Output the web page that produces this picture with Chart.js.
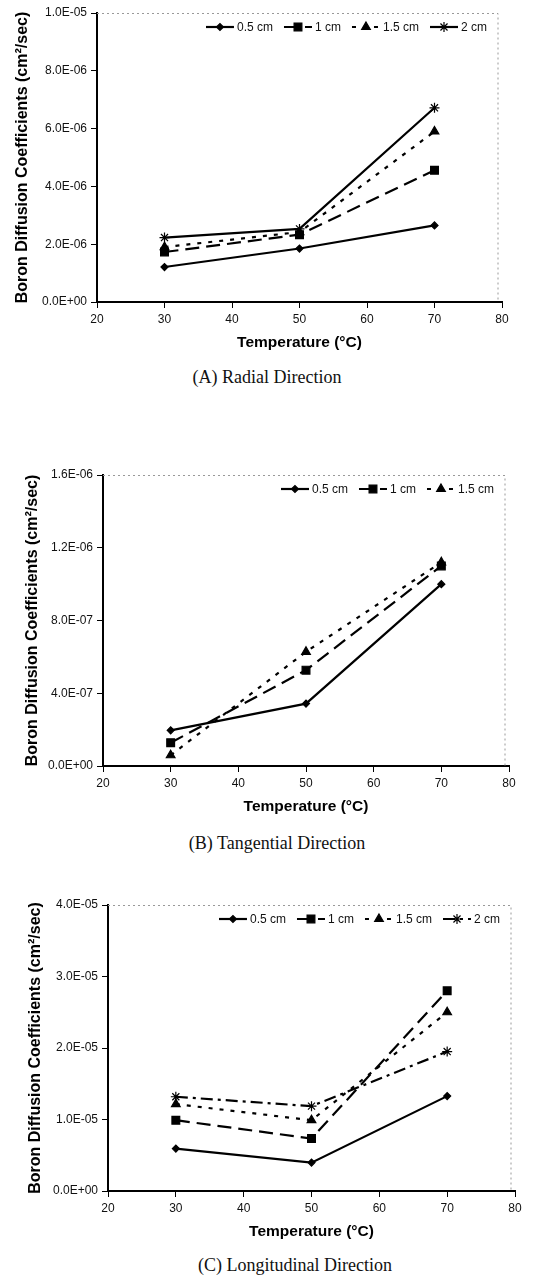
<!DOCTYPE html>
<html>
<head>
<meta charset="utf-8">
<script src="https://cdn.jsdelivr.net/npm/chart.js@4.4.1/dist/chart.umd.min.js"></script>
<style>
  body { margin: 0; background: #fff; width: 550px; height: 1278px; position: relative; overflow: hidden; }
  canvas { position: absolute; left: 0; }
  .cap { position: absolute; font-family: "Liberation Serif", "Times New Roman", serif; font-size: 18px; color: #111; white-space: nowrap; transform: translate(-50%, -50%); }
</style>
</head>
<body>
<canvas id="chartA" width="550" height="360" style="top:0px"></canvas>
<div class="cap" style="left:267px; top:377px">(A) Radial Direction</div>
<canvas id="chartB" width="550" height="362" style="top:462px"></canvas>
<div class="cap" style="left:277px; top:843px">(B) Tangential Direction</div>
<canvas id="chartC" width="550" height="357" style="top:892px"></canvas>
<div class="cap" style="left:295px; top:1265px">(C) Longitudinal Direction</div>

<script>
/* Datos */
const temps = [30, 50, 70]
const xTicks = [20, 30, 40, 50, 60, 70, 80]

const radial05 = [1.21e-6, 1.85e-6, 2.65e-6]
const radial1 = [1.73e-6, 2.33e-6, 4.56e-6]
const radial15 = [1.90e-6, 2.42e-6, 5.90e-6]
const radial2 = [2.23e-6, 2.53e-6, 6.72e-6]
const yTicksA = [0, 2e-6, 4e-6, 6e-6, 8e-6, 1e-5]

const tang05 = [1.96e-7, 3.43e-7, 1.00e-6]
const tang1 = [1.28e-7, 5.27e-7, 1.10e-6]
const tang15 = [0.59e-7, 6.28e-7, 1.12e-6]
const yTicksB = [0, 4e-7, 8e-7, 1.2e-6, 1.6e-6]

const long05 = [0.593e-5, 0.397e-5, 1.327e-5]
const long1 = [0.99e-5, 0.734e-5, 2.80e-5]
const long15 = [1.215e-5, 0.99e-5, 2.50e-5]
const long2 = [1.318e-5, 1.187e-5, 1.95e-5]
const yTicksC = [0, 1e-5, 2e-5, 3e-5, 4e-5]

const FONT = '"Liberation Sans", Arial, sans-serif'

function sci (v) {
  if (v === 0) return '0.0E+00'
  const e = Math.floor(Math.log10(Math.abs(v)) + 1e-9)
  const m = v / Math.pow(10, e)
  return m.toFixed(1) + 'E' + (e < 0 ? '-' : '+') + String(Math.abs(e)).padStart(2, '0')
}

// estilos de cada serie
const estilos = {
  s05: { borderDash: [], pointStyle: 'rectRot', pointRadius: 3.5 },
  s1: { borderDash: [14, 7], pointStyle: 'rect', pointRadius: 5.5 },
  s15: { borderDash: [4, 7], pointStyle: 'triangle', pointRadius: 5 },
  s2sol: { borderDash: [], pointStyle: 'star', pointRadius: 5 },
  s2dd: { borderDash: [12, 5, 3, 5], pointStyle: 'star', pointRadius: 5 }
}

function serie (label, valores, est) {
  return {
    label: label,
    data: temps.map((t, i) => ({ x: t, y: valores[i] })),
    borderColor: '#000',
    backgroundColor: '#000',
    borderWidth: 2.2,
    borderDash: est.borderDash,
    pointStyle: est.pointStyle,
    pointRadius: est.pointRadius,
    pointBorderWidth: 1.2,
    pointBackgroundColor: '#000',
    pointBorderColor: '#000',
    tension: 0
  }
}

// marco punteado arriba y a la derecha
const marco = {
  id: 'marco',
  beforeDatasetsDraw (chart) {
    const { ctx, chartArea: a } = chart
    ctx.save()
    ctx.strokeStyle = '#999'
    ctx.lineWidth = 1
    ctx.setLineDash([2, 3])
    ctx.beginPath()
    ctx.moveTo(a.left, a.top + 0.5)
    ctx.lineTo(a.right - 4, a.top + 0.5)
    ctx.lineTo(a.right - 4, a.bottom)
    ctx.stroke()
    ctx.restore()
  }
}

// leyenda con muestra de linea + marcador
const leyenda = {
  id: 'leyenda',
  afterDatasetsDraw (chart) {
    const { ctx, chartArea: a } = chart
    const sets = chart.data.datasets
    const sampleW = 28
    const gapTxt = 3
    const gapItem = 11
    ctx.save()
    ctx.font = '12px ' + FONT
    ctx.textBaseline = 'middle'
    let total = 0
    sets.forEach((d, i) => {
      total += sampleW + gapTxt + ctx.measureText(d.label).width
      if (i < sets.length - 1) total += gapItem
    })
    let x = a.right - 15 - total
    const y = a.top + 14
    sets.forEach(d => {
      ctx.strokeStyle = '#000'
      ctx.fillStyle = '#000'
      ctx.lineWidth = 2.2
      ctx.setLineDash(d.borderDash)
      ctx.beginPath()
      ctx.moveTo(x, y)
      ctx.lineTo(x + sampleW, y)
      ctx.stroke()
      ctx.setLineDash([])
      ctx.lineWidth = 1.2
      Chart.helpers.drawPoint(ctx, {
        pointStyle: d.pointStyle,
        radius: d.pointRadius,
        rotation: 0,
        borderWidth: 1.2
      }, x + sampleW / 2, y)
      ctx.fillStyle = '#111'
      ctx.fillText(d.label, x + sampleW + gapTxt, y + 1)
      x += sampleW + gapTxt + ctx.measureText(d.label).width + gapItem
    })
    ctx.restore()
  }
}

function crear (id, datasets, yTicks, ymax, izq, der, tituloX) {
  const ctx = document.getElementById(id)
  return new Chart(ctx, {
    type: 'line',
    data: { datasets: datasets },
    plugins: [marco, leyenda],
    options: {
      responsive: false,
      animation: false,
      events: [],
      layout: { padding: { top: 13, right: der, left: 0, bottom: 0 } },
      plugins: {
        legend: { display: false },
        tooltip: { enabled: false }
      },
      scales: {
        x: {
          type: 'linear',
          min: 20,
          max: 80,
          afterBuildTicks: s => { s.ticks = xTicks.map(v => ({ value: v })) },
          afterFit: s => { s.height = 58 },
          grid: { drawOnChartArea: false, drawTicks: true, tickLength: 6, color: '#000', tickWidth: 1 },
          border: { display: true, color: '#000', width: 2 },
          ticks: { color: '#111', padding: 4, font: { family: FONT, size: 12 }, maxRotation: 0 },
          title: { display: true, text: 'Temperature (°C)', color: '#000', font: { family: FONT, size: 15.5, weight: 'bold' }, padding: { top: 0, bottom: 7.7 } }
        },
        y: {
          type: 'linear',
          min: 0,
          max: ymax,
          afterBuildTicks: s => { s.ticks = yTicks.map(v => ({ value: v })) },
          afterFit: s => { s.width = izq },
          grid: { drawOnChartArea: false, drawTicks: true, tickLength: 6, color: '#000', tickWidth: 1 },
          border: { display: true, color: '#000', width: 2 },
          ticks: { color: '#111', padding: 4, font: { family: FONT, size: 12 }, callback: v => sci(v) },
          title: { display: true, text: 'Boron Diffusion Coefficients (cm²/sec)', color: '#000', font: { family: FONT, size: 16, weight: 'bold' }, padding: { top: tituloX - 9.6, bottom: 0 } }
        }
      }
    }
  })
}

crear('chartA', [
  serie('0.5 cm', radial05, estilos.s05),
  serie('1 cm', radial1, estilos.s1),
  serie('1.5 cm', radial15, estilos.s15),
  serie('2 cm', radial2, estilos.s2sol)
], yTicksA, 1e-5, 97, 48, 23)

crear('chartB', [
  serie('0.5 cm', tang05, estilos.s05),
  serie('1 cm', tang1, estilos.s1),
  serie('1.5 cm', tang15, estilos.s15)
], yTicksB, 1.6e-6, 103, 41, 33)

crear('chartC', [
  serie('0.5 cm', long05, estilos.s05),
  serie('1 cm', long1, estilos.s1),
  serie('1.5 cm', long15, estilos.s15),
  serie('2 cm', long2, estilos.s2dd)
], yTicksC, 4e-5, 108, 35, 36)
</script>
</body>
</html>
